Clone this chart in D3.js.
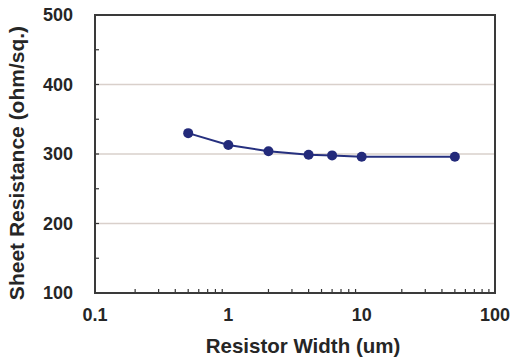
<!DOCTYPE html>
<html>
<head>
<meta charset="utf-8">
<script src="https://cdn.jsdelivr.net/npm/d3@7"></script>
<style>
  body { margin: 0; background: #fff; }
  text { font-family: "Liberation Sans", Arial, sans-serif; font-weight: bold; fill: #262626; }
</style>
</head>
<body>
<div id="chart"></div>
<script>
// resistor width (um) vs sheet resistance (ohm/sq.)
const widths = [0.5, 1, 2, 4, 6, 10, 50];
const resistance = [330, 313, 304, 299, 298, 296, 296];
const xTicks = [0.1, 1, 10, 100];
const yTicks = [100, 200, 300, 400, 500];

const width = 512, height = 361;
const margin = { top: 15, right: 17, bottom: 68, left: 95 };

const svg = d3.select('#chart').append('svg').attr('width', width).attr('height', height);

const x = d3.scaleLog().domain([0.1, 100]).range([margin.left, width - margin.right]);
const y = d3.scaleLinear().domain([100, 500]).range([height - margin.bottom, margin.top]);

// gridlines
svg.append('g').selectAll('line').data(yTicks.slice(1, -1)).enter().append('line')
  .attr('x1', margin.left).attr('x2', width - margin.right)
  .attr('y1', d => y(d)).attr('y2', d => y(d))
  .attr('stroke', '#d9d0cb').attr('stroke-width', 1.5);

// minor ticks on x (inside)
const xMinor = [];
for (let dec = 0.1; dec < 100; dec *= 10) for (let k = 2; k <= 9; k++) xMinor.push(dec * k);
svg.append('g').selectAll('line').data(xMinor).enter().append('line')
  .attr('x1', d => x(d)).attr('x2', d => x(d))
  .attr('y1', y(100)).attr('y2', y(100) - 4)
  .attr('stroke', '#333').attr('stroke-width', 1.2);

// y ticks inside, incl. half steps
svg.append('g').selectAll('line').data(d3.range(150, 500, 50)).enter().append('line')
  .attr('x1', margin.left).attr('x2', margin.left + 4)
  .attr('y1', d => y(d)).attr('y2', d => y(d))
  .attr('stroke', '#333').attr('stroke-width', 1.2);

// frame
svg.append('rect')
  .attr('x', margin.left).attr('y', margin.top)
  .attr('width', width - margin.left - margin.right)
  .attr('height', height - margin.bottom - margin.top)
  .attr('fill', 'none').attr('stroke', '#3a3a3a').attr('stroke-width', 2);

// tick labels
svg.append('g').selectAll('text').data(yTicks).enter().append('text')
  .attr('x', margin.left - 22).attr('y', d => y(d)).attr('dy', '0.35em')
  .attr('text-anchor', 'end').attr('font-size', 18).text(d => d);

svg.append('g').selectAll('text').data(xTicks).enter().append('text')
  .attr('x', d => x(d)).attr('y', 315).attr('dy', '0.35em')
  .attr('text-anchor', 'middle').attr('font-size', 18).text(d => d);

// axis titles
svg.append('text').attr('x', 303).attr('y', 346).attr('dy', '0.35em')
  .attr('text-anchor', 'middle').attr('font-size', 20.5).text('Resistor Width (um)');
svg.append('text').attr('transform', 'translate(17,163) rotate(-90)')
  .attr('dy', '0.35em').attr('text-anchor', 'middle').attr('font-size', 21).text('Sheet Resistance (ohm/sq.)');

// series
const pts = widths.map((w, i) => [w, resistance[i]]);
svg.append('path').datum(pts)
  .attr('d', d3.line().x(d => x(d[0])).y(d => y(d[1])))
  .attr('fill', 'none').attr('stroke', '#26307f').attr('stroke-width', 2);
svg.append('g').selectAll('circle').data(pts).enter().append('circle')
  .attr('cx', d => x(d[0])).attr('cy', d => y(d[1])).attr('r', 5)
  .attr('fill', '#232a7a');
</script>
</body>
</html>
